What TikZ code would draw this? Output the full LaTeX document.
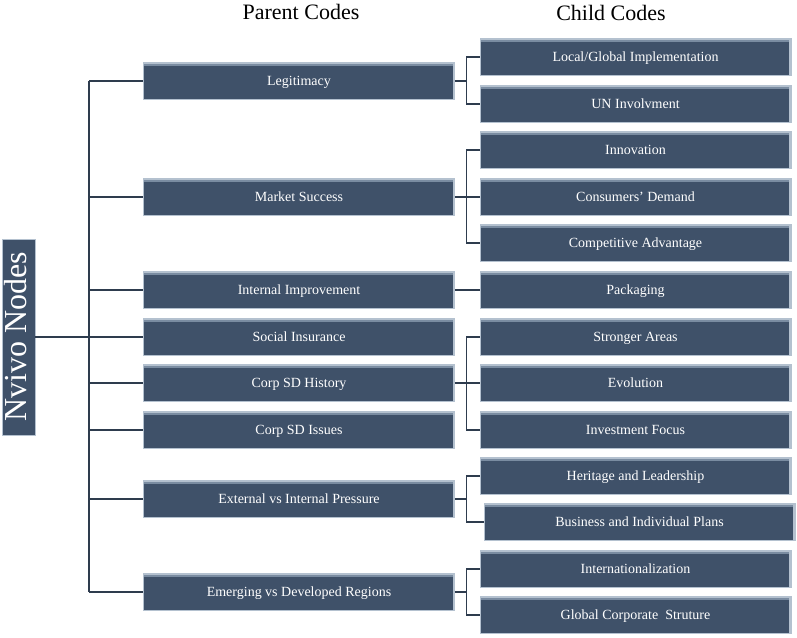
\documentclass[tikz,border=0pt]{standalone}
\usepackage{fontspec}
\setmainfont{Liberation Serif}
\definecolor{boxtop}{HTML}{7A8CA1}
\definecolor{boxmid}{HTML}{3F5169}
\definecolor{boxedge}{HTML}{B4C1CF}
\definecolor{linkcol}{HTML}{2E3C4E}
\tikzset{
  codebox/.style={rectangle, inner sep=0pt, minimum width=311pt, minimum height=37pt,
    fill=boxmid, draw=boxedge, line width=0.5pt, text=white,
    font=\fontsize{14}{16}\selectfont, text height=11pt, text depth=2pt,
    path picture={
      \fill[boxedge] (path picture bounding box.north west) rectangle
        ([yshift=-1.5pt]path picture bounding box.north east);
      \fill[boxtop] ([yshift=-1.5pt]path picture bounding box.north west) rectangle
        ([yshift=-3.5pt]path picture bounding box.north east);
      \fill[boxedge] (path picture bounding box.north east) rectangle
        ([xshift=-1.8pt]path picture bounding box.south east);
    }},
  link/.style={draw=linkcol, line width=1.1pt},
  heading/.style={font=\fontsize{22}{25}\selectfont, text=black}
}
\begin{document}
\begin{tikzpicture}[x=1pt,y=-1pt]
		\useasboundingbox (0,0) rectangle (797,637);
		\pgfmathsetmacro{\px}{299};
		\pgfmathsetmacro{\cx}{635.5};
		% headings
		\node[heading] (hpar) at (301,12) {Parent Codes};
		\node[heading] (hchi) at (611,13) {Child Codes};
		% root
		\node[codebox, rotate=90, minimum width=196pt, minimum height=33pt,
		  text height=22pt, text depth=6pt,
		  font=\fontsize{32}{34}\selectfont] (root) at (18.5,337) {Nvivo Nodes};
		% parent codes
		\node[codebox] (legit) at (\px,81) {Legitimacy};
		\node[codebox] (market) at (\px,197) {Market Success};
		\node[codebox] (intimp) at (\px,290) {Internal Improvement};
		\node[codebox] (social) at (\px,337) {Social Insurance};
		\node[codebox] (sdhist) at (\px,383) {Corp SD History};
		\node[codebox] (sdiss) at (\px,430) {Corp SD Issues};
		\node[codebox] (press) at (\px,499) {External vs Internal Pressure};
		\node[codebox] (region) at (\px,592) {Emerging vs Developed Regions};
		% child codes
		\node[codebox] (locglob) at (\cx,57) {Local/Global Implementation};
		\node[codebox] (uninv) at (\cx,104) {UN Involvment};
		\node[codebox] (innov) at (\cx,150) {Innovation};
		\node[codebox] (demand) at (\cx,197) {Consumers’ Demand};
		\node[codebox] (compadv) at (\cx,243) {Competitive Advantage};
		\node[codebox] (pack) at (\cx,290) {Packaging};
		\node[codebox] (strong) at (\cx,337) {Stronger Areas};
		\node[codebox] (evol) at (\cx,383) {Evolution};
		\node[codebox] (invest) at (\cx,430) {Investment Focus};
		\node[codebox] (herit) at (\cx,476) {Heritage and Leadership};
		\node[codebox] (plans) at (\cx+4,522) {Business and Individual Plans};
		\node[codebox] (intl) at (\cx,569) {Internationalization};
		\node[codebox] (gcs) at (\cx,615) {Global Corporate\ \ Struture};
		% trunk
		\coordinate (tr) at (89,337);
		\draw[link] (root.south) -- (tr);
		\draw[link] (tr |- legit.west) -- (tr |- region.west);
		\foreach \p in {legit,market,intimp,social,sdhist,sdiss,press,region}
			\draw[link] (tr |- \p.west) -- (\p.west);
		% parent to child
		\draw[link] (legit.east) -- ++(12,0) coordinate (jlegit);
		\foreach \c in {locglob,uninv} \draw[link] (jlegit) |- (\c.west);
		\draw[link] (market.east) -- ++(12,0) coordinate (jmarket);
		\foreach \c in {innov,demand,compadv} \draw[link] (jmarket) |- (\c.west);
		\draw[link] (intimp.east) -- (pack.west);
		\draw[link] (sdhist.east) -- ++(12,0) coordinate (jhist);
		\foreach \c in {strong,evol,invest} \draw[link] (jhist) |- (\c.west);
		\draw[link] (press.east) -- ++(12,0) coordinate (jpress);
		\foreach \c in {herit,plans} \draw[link] (jpress) |- (\c.west);
		\draw[link] (region.east) -- ++(12,0) coordinate (jregion);
		\foreach \c in {intl,gcs} \draw[link] (jregion) |- (\c.west);
	\end{tikzpicture}
\end{document}
